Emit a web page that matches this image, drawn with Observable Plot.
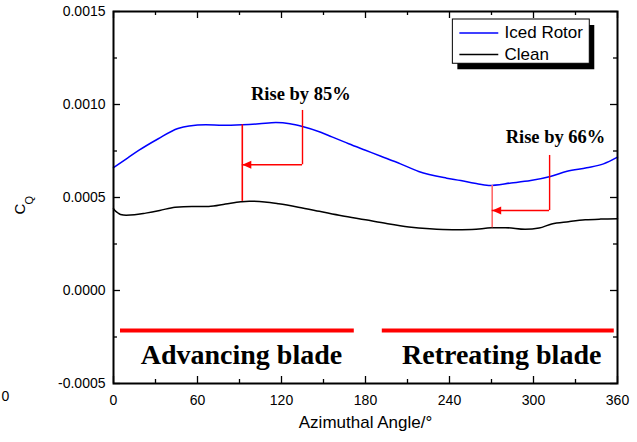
<!DOCTYPE html>
<html>
<head>
<meta charset="utf-8">
<script src="https://cdn.jsdelivr.net/npm/d3@7"></script>
<script src="https://cdn.jsdelivr.net/npm/@observablehq/plot@0.6"></script>
<style>
  html, body { margin: 0; padding: 0; background: #fff; }
</style>
</head>
<body>
<div id="chart"></div>
<script>
// ---------- data ----------
const icedAngle = [0, 10, 18, 32, 46, 54, 66, 78, 92, 104, 116, 126, 135, 148, 156, 168, 180, 191, 205, 218, 238, 248, 258, 268, 284, 298, 312, 324, 338, 350, 360];
const icedCq    = [0.000660, 0.000712, 0.000753, 0.000816, 0.000871, 0.000885, 0.000891, 0.000888, 0.000891, 0.000896, 0.000903, 0.000897, 0.000882, 0.000851, 0.000826, 0.000789, 0.000754, 0.000722, 0.000681, 0.000640, 0.000604, 0.000591, 0.000576, 0.000565, 0.000578, 0.000591, 0.000613, 0.000641, 0.000660, 0.000681, 0.000717];

const cleanAngle = [0, 1, 3, 5, 9, 15, 23, 33, 44, 56, 68, 80, 91, 97, 108, 118, 132, 147, 163, 180, 195, 211, 226, 242, 256, 270, 280, 294, 304, 313, 325, 337, 348, 360];
const cleanCq    = [0.000440, 0.000430, 0.000418, 0.000409, 0.000405, 0.000407, 0.000416, 0.000430, 0.000448, 0.000452, 0.000452, 0.000465, 0.000477, 0.000480, 0.000476, 0.000466, 0.000448, 0.000426, 0.000402, 0.000380, 0.000360, 0.000342, 0.000332, 0.000327, 0.000328, 0.000337, 0.000338, 0.000329, 0.000336, 0.000358, 0.000370, 0.000380, 0.000384, 0.000386];

const seriesNames = ["Iced Rotor", "Clean"];
const seriesColors = ["#0000ff", "#000000"];

// axis ticks
const xMajor = [0, 60, 120, 180, 240, 300, 360];
const xMinor = [30, 90, 150, 210, 270, 330];
const yMajor = [-0.0005, 0.0000, 0.0005, 0.0010, 0.0015];
const yMinor = [-0.00025, 0.00025, 0.00075, 0.00125];

// annotations: "rise" arrows
const riseLabels = ["Rise by 85%", "Rise by 66%"];
const riseLabelX = [133.8, 315.7];
const riseLabelY = [0.001022, 0.000792];
const riseAt     = [92, 270.5];       // angle of the vertical difference line
const riseTop    = [0.000891, 0.000565];
const riseBottom = [0.000479, 0.000337];
const elbowX     = [135, 311.5];
const elbowTop   = [0.000968, 0.000726];
const elbowY     = [0.000676, 0.000430];
const riseColors = ["#ff0000", "#ff6a6a"];

// annotations: blade regions
const regionLabels = ["Advancing blade", "Retreating blade"];
const regionLabelX = [91.4, 277.3];
const regionLabelY = [-0.000394, -0.000394];
const regionStart  = [5, 192];
const regionEnd    = [172, 357.7];
const regionBarY   = -0.000215;

// legend placement (data units)
const legendBox = {x1: 242.4, x2: 340.2, y1: 0.001457, y2: 0.001219};
const legendLineX = [247.4, 275.2];
const legendRowY = [0.001385, 0.001269];
const legendTextX = 279.3;

// axis titles
const xTitle = "Azimuthal Angle/\u00b0";
const yTitleMain = "C";
const yTitleSub = "Q";
const strayLabel = "0";

// ---------- build ----------
const W = 637, H = 442;
const mL = 113, mR = 20, mT = 11, mB = 59;
const innerW = W - mL - mR, innerH = H - mT - mB;

const iced = icedAngle.map((a, i) => ({angle: a, cq: icedCq[i]}));
const clean = cleanAngle.map((a, i) => ({angle: a, cq: cleanCq[i]}));
const rises = riseLabels.map((t, i) => ({
  label: t, lx: riseLabelX[i], ly: riseLabelY[i], at: riseAt[i],
  top: riseTop[i], bottom: riseBottom[i], ex: elbowX[i], etop: elbowTop[i], ey: elbowY[i], color: riseColors[i]
}));
const regions = regionLabels.map((t, i) => ({label: t, lx: regionLabelX[i], ly: regionLabelY[i], x1: regionStart[i], x2: regionEnd[i]}));
const legendRows = seriesNames.map((n, i) => ({name: n, color: seriesColors[i], y: legendRowY[i]}));

// left-pointing filled arrowhead, tip at the anchor point
const arrowHead = {
  draw(context) {
    context.moveTo(0, 0);
    context.lineTo(9, -4);
    context.lineTo(9, 4);
    context.closePath();
  }
};

const sans = "'Liberation Sans', Arial, Helvetica, sans-serif";
const serif = "'Liberation Serif', 'Times New Roman', serif";

const chart = Plot.plot({
  width: W, height: H,
  marginLeft: mL, marginRight: mR, marginTop: mT, marginBottom: mB,
  x: {domain: [0, 360]},
  y: {domain: [-0.0005, 0.0015]},
  style: {fontFamily: sans, background: "#fff", color: "#000"},
  marks: [
    // tick labels
    Plot.axisX({ticks: xMajor, tickSize: 0, tickPadding: 12, fontSize: 14, tickFormat: d => String(d), label: null}),
    Plot.axisY({ticks: yMajor, tickSize: 0, tickPadding: 8, fontSize: 14, tickFormat: d => d.toFixed(4), label: null}),
    // inward ticks on all four sides
    Plot.ruleX(xMajor, {x: d => d, insetTop: innerH - 7, stroke: "#000", strokeWidth: 1.3}),
    Plot.ruleX(xMinor, {x: d => d, insetTop: innerH - 4, stroke: "#000", strokeWidth: 1.3}),
    Plot.ruleX(xMajor, {x: d => d, insetBottom: innerH - 7, stroke: "#000", strokeWidth: 1.3}),
    Plot.ruleX(xMinor, {x: d => d, insetBottom: innerH - 4, stroke: "#000", strokeWidth: 1.3}),
    Plot.ruleY(yMajor, {y: d => d, insetRight: innerW - 7, stroke: "#000", strokeWidth: 1.3}),
    Plot.ruleY(yMinor, {y: d => d, insetRight: innerW - 4, stroke: "#000", strokeWidth: 1.3}),
    Plot.ruleY(yMajor, {y: d => d, insetLeft: innerW - 7, stroke: "#000", strokeWidth: 1.3}),
    Plot.ruleY(yMinor, {y: d => d, insetLeft: innerW - 4, stroke: "#000", strokeWidth: 1.3}),

    // region bars and labels
    Plot.ruleY(regions, {y: () => regionBarY, x1: "x1", x2: "x2", stroke: "#ff0000", strokeWidth: 4}),
    Plot.text(regions, {x: "lx", y: "ly", text: "label", lineAnchor: "bottom", textAnchor: "middle",
      fontFamily: serif, fontWeight: "bold", fontSize: 28, fill: "#000"}),

    // curves
    Plot.line(clean, {x: "angle", y: "cq", stroke: seriesColors[1], strokeWidth: 1.5, curve: "monotone-x"}),
    Plot.line(iced, {x: "angle", y: "cq", stroke: seriesColors[0], strokeWidth: 1.5, curve: "monotone-x"}),

    // rise annotations
    Plot.ruleX(rises, {x: "at", y1: "bottom", y2: "top", stroke: "color", strokeWidth: 1.6}),
    Plot.ruleX(rises, {x: "ex", y1: "ey", y2: "etop", stroke: "#ff0000", strokeWidth: 1.4}),
    Plot.ruleY(rises, {y: "ey", x1: "at", x2: "ex", stroke: "#ff0000", strokeWidth: 1.4}),
    Plot.dot(rises, {x: "at", y: "ey", symbol: arrowHead, fill: "#ff0000", stroke: "none", r: 5}),
    Plot.text(rises, {x: "lx", y: "ly", text: "label", lineAnchor: "bottom", textAnchor: "middle",
      fontFamily: serif, fontWeight: "bold", fontSize: 18.5, fill: "#000"}),

    // legend
    Plot.rect([legendBox], {x1: "x1", x2: "x2", y1: "y1", y2: "y2", fill: "#000", dx: 5, dy: 6}),
    Plot.rect([legendBox], {x1: "x1", x2: "x2", y1: "y1", y2: "y2", fill: "#fff", stroke: "#000", strokeWidth: 1}),
    Plot.ruleY(legendRows, {y: "y", x1: () => legendLineX[0], x2: () => legendLineX[1], stroke: "color", strokeWidth: 1.5}),
    Plot.text(legendRows, {x: () => legendTextX, y: "y", text: "name", textAnchor: "start", fontSize: 17, fill: "#000"}),

    // axis titles
    Plot.text([xTitle], {frameAnchor: "bottom", dy: 44, text: d => d, fontSize: 17, fill: "#000"}),
    Plot.text([yTitleMain], {frameAnchor: "left", dx: -93, dy: 17, text: d => d, rotate: -90, fontSize: 15, fill: "#000"}),
    Plot.text([yTitleSub], {frameAnchor: "left", dx: -84, dy: 7, text: d => d, rotate: -90, fontSize: 11, fill: "#000"}),
    // stray label at the far left of the reference (kept fully visible)
    Plot.text([strayLabel], {frameAnchor: "bottom-left", dx: -112, dy: 17, text: d => d, textAnchor: "start", fontSize: 14, fill: "#000"}),

    Plot.frame({stroke: "#000", strokeWidth: 2})
  ]
});

document.getElementById("chart").appendChild(chart);
</script>
</body>
</html>
